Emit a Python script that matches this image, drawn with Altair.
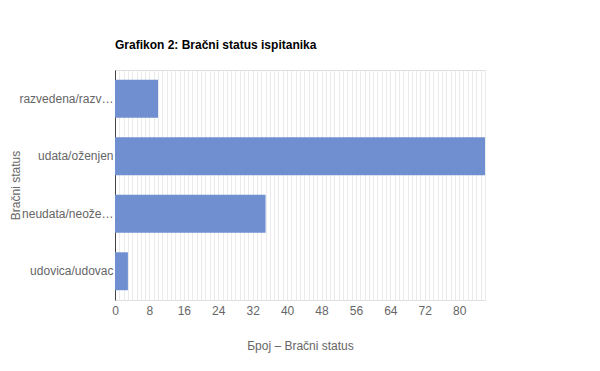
import altair as alt
import pandas as pd

categories = ["razvedena/razveden", "udata/oženjen", "neudata/neoženjen", "udovica/udovac"]
counts = [10, 86, 35, 3]
major_ticks = [0, 8, 16, 24, 32, 40, 48, 56, 64, 72, 80]
minor_ticks = list(range(0, 87))

df = pd.DataFrame({"status": categories, "broj": counts})

FONT = "Liberation Sans"
LABEL_COLOR = "#666666"

xscale = alt.Scale(domain=[0, 86], nice=False, zero=True)
yscale = alt.Scale(domain=categories, paddingInner=0.34, paddingOuter=0.17)

yaxis = alt.Axis(title="Bračni status", ticks=False, domain=True, domainColor="#444444",
                 labelColor=LABEL_COLOR, labelFontSize=12, labelFont=FONT, labelPadding=2,
                 labelLimit=98, grid=False,
                 titleColor=LABEL_COLOR, titleFontSize=12, titleFont=FONT,
                 titleFontWeight="normal", titleX=-100, titleY=115,
                 titleBaseline="middle", titleAngle=-90, titleAlign="center")

bars = alt.Chart(df).mark_bar(color="#6f8fd0").encode(
    x=alt.X("broj:Q", scale=xscale,
            axis=alt.Axis(orient="bottom", values=major_ticks, grid=True, gridColor="#cccccc",
                          labels=True, ticks=False, domain=False, labelFlush=False,
                          labelColor=LABEL_COLOR, labelFontSize=12, labelFont=FONT, labelPadding=5,
                          title="Број – Bračni status", titleColor=LABEL_COLOR, titleFontSize=12,
                          titleFont=FONT, titleFontWeight="normal",
                          titleX=185, titleY=45, titleBaseline="middle", titleAlign="center")),
    y=alt.Y("status:N", scale=yscale, sort=categories, axis=yaxis),
)

minor = alt.Chart(df).mark_bar(opacity=0).encode(
    x=alt.X("broj:Q", scale=xscale,
            axis=alt.Axis(orient="bottom", values=minor_ticks, grid=True, gridColor="#ebebeb",
                          labels=False, ticks=False, domain=False, title=None)),
    y=alt.Y("status:N", scale=yscale, sort=categories, axis=yaxis),
)

chart = alt.layer(bars, minor).resolve_axis(x="independent").properties(
    width=370,
    height=230,
    title=alt.TitleParams("Grafikon 2: Bračni status ispitanika", anchor="start", frame="group",
                          font=FONT, fontSize=12, fontWeight="bold", color="#000000", offset=18),
    autosize=alt.AutoSizeParams(type="none"),
    padding={"left": 107, "top": 62, "right": 100, "bottom": 60},
).configure_view(strokeWidth=0).configure(background="white")

chart.save("out.html", embed_options={"renderer": "svg", "actions": False})
